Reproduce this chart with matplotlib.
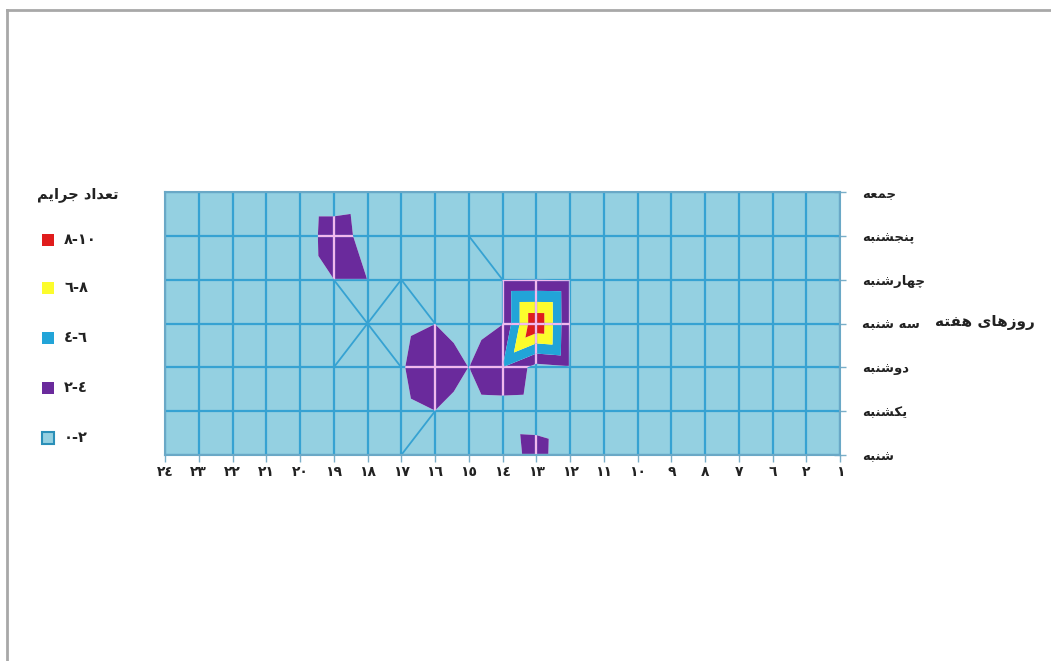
import numpy as np
import matplotlib
matplotlib.use("Agg")
import matplotlib.pyplot as plt
import matplotlib.tri as mtri
from matplotlib.collections import LineCollection
from matplotlib.lines import Line2D
from matplotlib.patches import Rectangle

plt.rcParams['font.family'] = ['DejaVu Sans']

# ---------------- data ----------------
hour_labels = ['٢٤', '٢٣', '٢٢', '٢١', '٢٠', '١٩', '١٨', '١٧', '١٦', '١٥', '١٤',
               '١٣', '١٢', '١١', '١٠', '٩', '٨', '٧', '٦', '٢', '١']
day_labels = ['شنبه', 'یکشنبه', 'دوشنبه', 'سه شنبه', 'چهارشنبه', 'پنجشنبه', 'جمعه']

# crime counts per (day, hour) grid node; rows follow day_labels, columns follow hour_labels
crimes_sat = [0.5, 0.5, 0.5, 0.5, 0.5, 0.5, 0.5, 0.5, 0.5, 0.5, 0.6, 3.0, 0.2, 0.5, 0.5, 0.5, 0.5, 0.5, 0.5, 0.5, 0.5]
crimes_sun = [0.5, 0.5, 0.5, 0.5, 0.5, 0.5, 0.5, 1.4, 1.98, 0.8, 0.9, 0.8, 0.3, 0.5, 0.5, 0.5, 0.5, 0.5, 0.5, 0.5, 0.5]
crimes_mon = [0.5, 0.5, 0.5, 0.5, 0.5, 1.98, 0.5, 1.8, 3.5, 1.98, 4.0, 1.3, 1.8, 0.5, 0.5, 0.5, 0.5, 0.5, 0.5, 0.5, 0.5]
crimes_tue = [0.5, 0.5, 0.5, 0.5, 0.5, 0.5, 1.98, 1.4, 1.98, 0.8, 1.95, 9.9, 1.98, 0.5, 0.5, 0.5, 0.5, 0.5, 0.5, 0.5, 0.5]
crimes_wed = [0.5, 0.5, 0.5, 0.5, 0.1, 1.98, 1.98, 1.98, 0.5, 0.5, 1.95, 1.98, 1.9, 0.5, 0.5, 0.5, 0.5, 0.5, 0.5, 0.5, 0.5]
crimes_thu = [0.5, 0.5, 0.5, 0.5, 0.2, 3.6, 0.8, 0.5, 0.5, 1.98, 0.5, 0.5, 0.5, 0.5, 0.5, 0.5, 0.5, 0.5, 0.5, 0.5, 0.5]
crimes_fri = [0.5, 0.5, 0.5, 0.5, 0.0, 0.0, 0.4, 0.5, 0.5, 0.5, 0.5, 0.5, 0.5, 0.5, 0.5, 0.5, 0.5, 0.5, 0.5, 0.5, 0.5]

levels = [0, 2, 4, 6, 8, 10]
level_labels = ['٠-٢', '٢-٤', '٤-٦', '٦-٨', '٨-١٠']
level_colors = ['#94d0e1', '#6a2a9c', '#22a4d8', '#fcfc2c', '#e01c1c']

# mesh edges drawn by the contour tool between nodes (hour label, day label)
mesh_links = [('١٩', 'چهارشنبه', '١٨', 'سه شنبه'), ('١٨', 'سه شنبه', '١٧', 'دوشنبه'),
              ('١٧', 'چهارشنبه', '١٨', 'سه شنبه'), ('١٨', 'سه شنبه', '١٩', 'دوشنبه'),
              ('١٧', 'چهارشنبه', '١٦', 'سه شنبه'), ('١٥', 'پنجشنبه', '١٤', 'چهارشنبه'),
              ('١٦', 'یکشنبه', '١٧', 'شنبه')]

# ---------------- Persian shaping helper ----------------
FORMS = {
    'ا': ('\uFE8D', '\uFE8E', None, None),
    'ب': ('\uFE8F', '\uFE90', '\uFE91', '\uFE92'),
    'ت': ('\uFE95', '\uFE96', '\uFE97', '\uFE98'),
    'ج': ('\uFE9D', '\uFE9E', '\uFE9F', '\uFEA0'),
    'چ': ('\uFB7A', '\uFB7B', '\uFB7C', '\uFB7D'),
    'د': ('\uFEA9', '\uFEAA', None, None),
    'ر': ('\uFEAD', '\uFEAE', None, None),
    'ز': ('\uFEAF', '\uFEB0', None, None),
    'س': ('\uFEB1', '\uFEB2', '\uFEB3', '\uFEB4'),
    'ش': ('\uFEB5', '\uFEB6', '\uFEB7', '\uFEB8'),
    'ع': ('\uFEC9', '\uFECA', '\uFECB', '\uFECC'),
    'ف': ('\uFED1', '\uFED2', '\uFED3', '\uFED4'),
    'ک': ('\uFED9', '\uFEDA', '\uFEDB', '\uFEDC'),
    'م': ('\uFEE1', '\uFEE2', '\uFEE3', '\uFEE4'),
    'ن': ('\uFEE5', '\uFEE6', '\uFEE7', '\uFEE8'),
    'ه': ('\uFEE9', '\uFEEA', '\uFEEB', '\uFEEC'),
    'و': ('\uFEED', '\uFEEE', None, None),
    'ی': ('\uFEEF', '\uFEF0', '\uFEF3', '\uFEF4'),
    'پ': ('\uFB56', '\uFB57', '\uFB58', '\uFB59'),
}


def fa(text):
    out = []
    n = len(text)
    for k, c in enumerate(text):
        if c not in FORMS:
            out.append(c)
            continue
        iso, fin, ini, med = FORMS[c]
        p = text[k - 1] if k > 0 else ''
        q = text[k + 1] if k + 1 < n else ''
        jp = p in FORMS and FORMS[p][2] is not None
        jn = q in FORMS and ini is not None
        if jp and jn:
            out.append(med)
        elif jp:
            out.append(fin)
        elif jn:
            out.append(ini)
        else:
            out.append(iso)
    return ''.join(reversed(out))


# ---------------- figure ----------------
W, H = 1051, 661
fig = plt.figure(figsize=(W / 100, H / 100), dpi=100)
fig.patch.set_facecolor('white')

# outer frame (left and top)
fig.add_artist(Line2D([7 / W, 7 / W], [0, 1 - 10 / H], transform=fig.transFigure, color='#a8a8a8', lw=2))
fig.add_artist(Line2D([7 / W, 1], [1 - 10 / H, 1 - 10 / H], transform=fig.transFigure, color='#a8a8a8', lw=2))

x0, x1, ytop, ybot = 165, 840, 192, 455
ax = fig.add_axes([x0 / W, 1 - ybot / H, (x1 - x0) / W, (ybot - ytop) / H])

Z = np.array([crimes_sat, crimes_sun, crimes_mon, crimes_tue, crimes_wed, crimes_thu, crimes_fri])
nx, ny = len(hour_labels), len(day_labels)
xs = np.arange(nx)
ys = np.arange(ny)
XX, YY = np.meshgrid(xs, ys)


def node(i, j):
    return j * nx + i


# triangulate each grid cell along the diagonal through its highest node
tris = []
for j in range(ny - 1):
    for i in range(nx - 1):
        a, b, c, d = node(i, j), node(i + 1, j), node(i, j + 1), node(i + 1, j + 1)
        vals = {a: Z[j, i], b: Z[j, i + 1], c: Z[j + 1, i], d: Z[j + 1, i + 1]}
        top = max(vals, key=vals.get)
        if top in (a, d):
            tris += [[a, b, d], [a, c, d]]
        else:
            tris += [[a, b, c], [b, c, d]]
tri = mtri.Triangulation(XX.ravel().astype(float), YY.ravel().astype(float), np.array(tris))

cs = ax.tricontourf(tri, Z.ravel(), levels=levels, colors=level_colors, zorder=1, antialiased=True)

# grid
grid_segs = [[(x, 0), (x, ny - 1)] for x in xs] + [[(0, y), (nx - 1, y)] for y in ys]
ax.add_collection(LineCollection(grid_segs, colors='#36a2d2', linewidths=1.6, zorder=2))

# mesh diagonal links
hx = {h: i for i, h in enumerate(hour_labels)}
dy = {d: j for j, d in enumerate(day_labels)}
link_segs = [[(hx[a], dy[b]), (hx[c], dy[d])] for a, b, c, d in mesh_links]
ax.add_collection(LineCollection(link_segs, colors='#36a2d2', linewidths=1.3, zorder=2))

# grid lines appear light pink over the higher bands
for path in cs.get_paths()[1:]:
    if len(path.vertices) == 0:
        continue
    lc = LineCollection(grid_segs, colors='#f2b8ee', linewidths=1.6, zorder=3)
    ax.add_collection(lc)
    lc.set_clip_path(path, ax.transData)

ax.set_xlim(0, nx - 1)
ax.set_ylim(0, ny - 1)
ax.set_xticks(xs)
ax.set_xticklabels(hour_labels, fontsize=10, fontweight='bold', color='#222222')
ax.set_yticks(ys)
ax.set_yticklabels([fa(d) for d in day_labels], fontsize=9.5, fontweight='bold', color='#222222', ha='left')
ax.yaxis.tick_right()
ax.tick_params(axis='y', direction='inout', length=8, width=1, colors='#7aaec8', pad=12, labelcolor='#222222')
ax.tick_params(axis='x', direction='out', length=5, width=1, colors='#7aaec8', pad=2, labelcolor='#222222')
for s in ax.spines.values():
    s.set_color('#6aa8c6')
    s.set_linewidth(1.5)
    s.set_zorder(4)

# axis title
fig.text(985 / W, 1 - 322 / H, fa('روزهای هفته'), ha='center', va='center', fontsize=11, fontweight='bold', color='#222222')

# legend
fig.text(78 / W, 1 - 195 / H, fa('تعداد جرایم'), ha='center', va='center', fontsize=10.5, fontweight='bold', color='#222222')
leg_y = [438, 388, 338, 288, 240]
for k, (lab, col) in enumerate(zip(level_labels, level_colors)):
    yc = leg_y[k]
    sz = 12
    ec = '#2a8fb8' if k == 0 else col
    fig.add_artist(Rectangle((42 / W, 1 - (yc + sz / 2) / H), sz / W, sz / H,
                             transform=fig.transFigure, facecolor=col, edgecolor=ec, lw=1.5 if k == 0 else 0))
    fig.text(64 / W, 1 - yc / H, lab, ha='left', va='center', fontsize=10.5, fontweight='bold', color='#222222')

fig.savefig('out.png', dpi=100, facecolor='white')
